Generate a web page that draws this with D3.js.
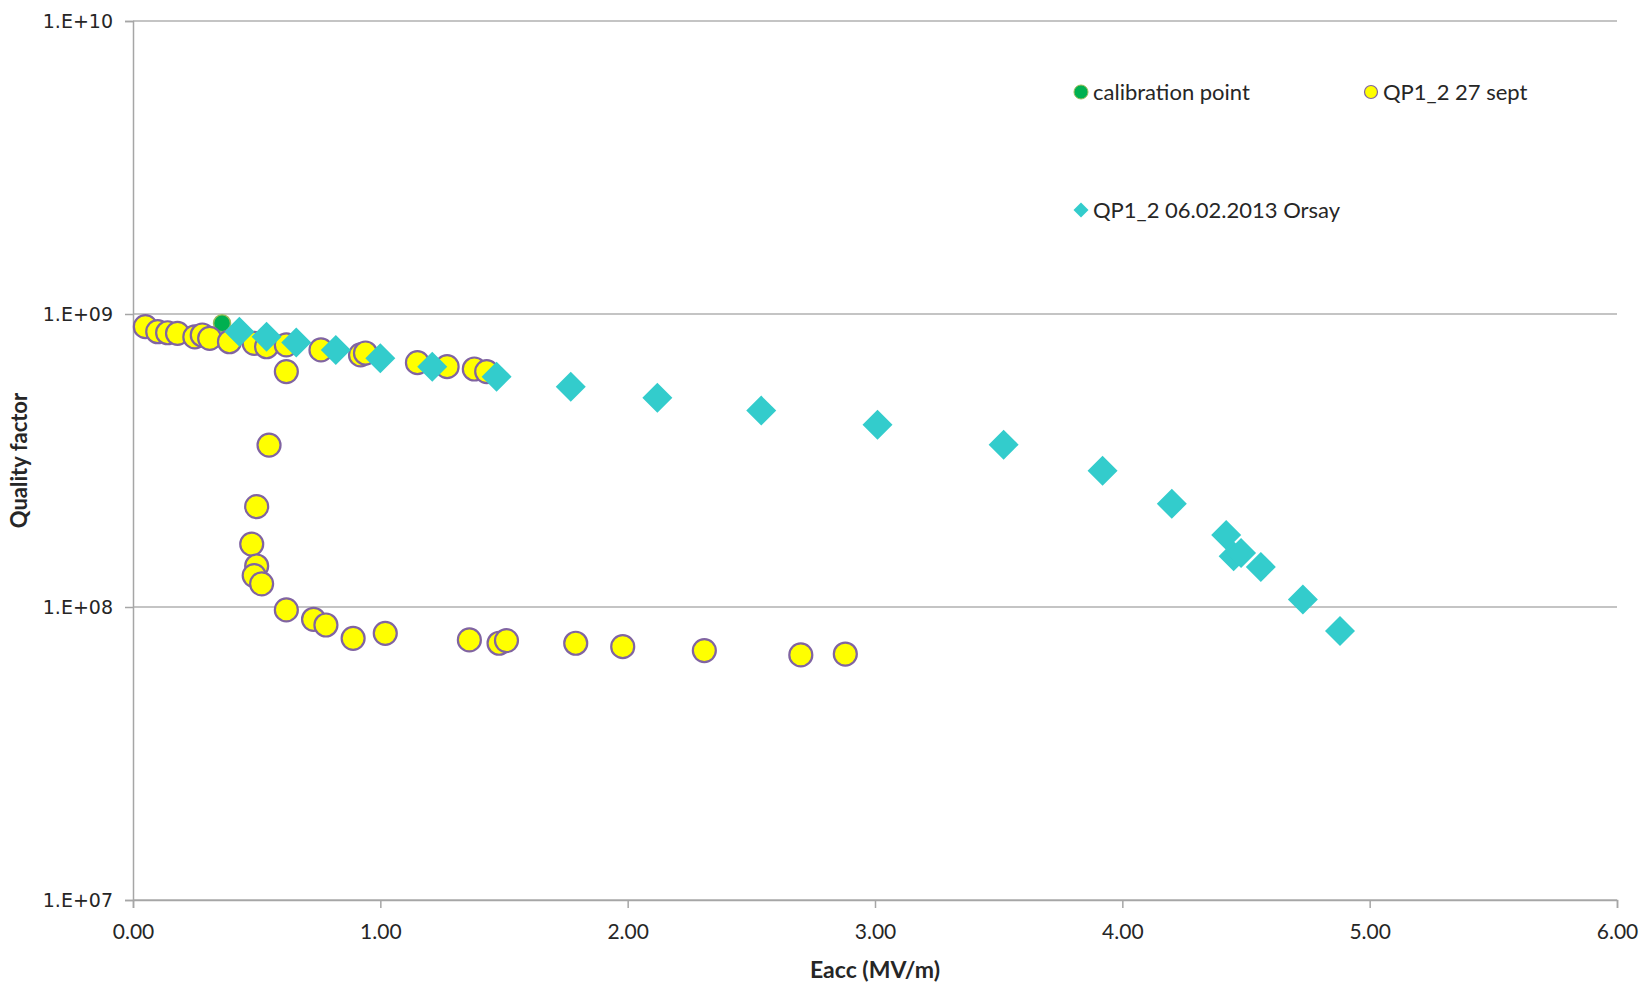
<!DOCTYPE html>
<html>
<head>
<meta charset="utf-8">
<script src="https://cdn.jsdelivr.net/npm/d3@7"></script>
<style>
  body { margin: 0; background: #fff; }
  text { font-family: Lato, "Open Sans", sans-serif; fill: #262626; }
</style>
</head>
<body>
<div id="chart"></div>
<script>
// calibration point
const calibE = [0.36];
const calibQ = [9.3e8];

// QP1_2 27 sept
const septE = [0.05, 0.10, 0.14, 0.18, 0.25, 0.28, 0.31, 0.39, 0.49, 0.54, 0.62, 0.76, 0.92, 0.94,
  1.15, 1.27, 1.38, 1.43, 0.62,
  0.55, 0.50, 0.48, 0.50, 0.49, 0.52, 0.62, 0.73, 0.78, 0.89, 1.02,
  1.36, 1.48, 1.51, 1.79, 1.98, 2.31, 2.70, 2.88];
const septQ = [9.05e8, 8.7e8, 8.63e8, 8.59e8, 8.35e8, 8.48e8, 8.26e8, 8.04e8, 7.94e8, 7.73e8, 7.84e8, 7.54e8, 7.25e8, 7.36e8,
  6.82e8, 6.61e8, 6.49e8, 6.36e8, 6.36e8,
  3.57e8, 2.20e8, 1.64e8, 1.38e8, 1.28e8, 1.20e8, 9.77e7, 9.08e7, 8.68e7, 7.82e7, 8.13e7,
  7.72e7, 7.52e7, 7.68e7, 7.52e7, 7.32e7, 7.10e7, 6.86e7, 6.91e7];

// QP1_2 06.02.2013 Orsay
const orsayE = [0.43, 0.54, 0.66, 0.82, 1.00, 1.21, 1.47, 1.77, 2.12, 2.54, 3.01, 3.52, 3.92,
  4.20, 4.42, 4.45, 4.48, 4.56, 4.73, 4.88];
const orsayQ = [8.7e8, 8.37e8, 7.99e8, 7.54e8, 7.06e8, 6.61e8, 6.11e8, 5.65e8, 5.18e8, 4.68e8, 4.19e8, 3.58e8, 2.92e8,
  2.25e8, 1.76e8, 1.49e8, 1.53e8, 1.37e8, 1.06e8, 8.28e7];

const xTicks = [0, 1, 2, 3, 4, 5, 6];
const yTicks = [1e7, 1e8, 1e9, 1e10];

const config = {
  width: 1641, height: 983,
  margin: { top: 21, right: 24, bottom: 83, left: 133 }
};

const innerW = config.width - config.margin.left - config.margin.right;
const innerH = config.height - config.margin.top - config.margin.bottom;

const svg = d3.select('#chart').append('svg')
  .attr('width', config.width)
  .attr('height', config.height);

const chart = svg.append('g')
  .attr('transform', `translate(${config.margin.left},${config.margin.top})`);

const xScale = d3.scaleLinear().domain([0, 6]).range([0, innerW]);
const yScale = d3.scaleLog().domain([1e7, 1e10]).range([innerH, 0]);

// horizontal gridlines
chart.selectAll('.grid')
  .data(yTicks)
  .enter().append('line')
  .attr('class', 'grid')
  .attr('x1', 0).attr('x2', innerW)
  .attr('y1', d => yScale(d)).attr('y2', d => yScale(d))
  .attr('stroke', '#b0b0b0').attr('stroke-width', 1.5);

// axes
const yAxis = d3.axisLeft(yScale)
  .tickValues(yTicks)
  .tickSize(8)
  .tickPadding(12)
  .tickFormat(d => '1.E+' + String(Math.round(Math.log10(d))).padStart(2, '0'));

const xAxis = d3.axisBottom(xScale)
  .tickValues(xTicks)
  .tickSize(8)
  .tickPadding(16)
  .tickFormat(d3.format('.2f'));

const yAxisG = chart.append('g').call(yAxis);
const xAxisG = chart.append('g').attr('transform', `translate(0,${innerH})`).call(xAxis);

[yAxisG, xAxisG].forEach(g => {
  g.select('.domain').attr('stroke', '#a6a6a6').attr('stroke-width', 1.5);
  g.selectAll('.tick line').attr('stroke', '#a6a6a6').attr('stroke-width', 1.5);
});
yAxisG.selectAll('.tick text')
  .style('font-family', '"DejaVu Sans", sans-serif')
  .style('font-size', '19px').attr('fill', '#262626');
xAxisG.selectAll('.tick text')
  .style('font-size', '21px').attr('fill', '#262626');

// axis titles
chart.append('text')
  .attr('x', innerW / 2).attr('y', innerH + 78)
  .attr('text-anchor', 'middle')
  .style('font-size', '23px').style('font-weight', 'bold')
  .text('Eacc (MV/m)');

chart.append('text')
  .attr('transform', `translate(${-106},${innerH / 2}) rotate(-90)`)
  .attr('text-anchor', 'middle')
  .style('font-size', '22px').style('font-weight', 'bold')
  .text('Quality factor');

// calibration point
chart.selectAll('.calib')
  .data(calibE.map((e, i) => [e, calibQ[i]]))
  .enter().append('circle')
  .attr('class', 'calib')
  .attr('cx', d => xScale(d[0])).attr('cy', d => yScale(d[1]))
  .attr('r', 8.5)
  .attr('fill', '#00b050').attr('stroke', '#9bbb59').attr('stroke-width', 1.5);

// QP1_2 27 sept
chart.selectAll('.sept')
  .data(septE.map((e, i) => [e, septQ[i]]))
  .enter().append('circle')
  .attr('class', 'sept')
  .attr('cx', d => xScale(d[0])).attr('cy', d => yScale(d[1]))
  .attr('r', 11.5)
  .attr('fill', '#ffff00').attr('stroke', '#8064a2').attr('stroke-width', 2.2);

// QP1_2 06.02.2013 Orsay
const diamond = r => `M0,${-r}L${r},0L0,${r}L${-r},0Z`;
chart.selectAll('.orsay')
  .data(orsayE.map((e, i) => [e, orsayQ[i]]))
  .enter().append('path')
  .attr('class', 'orsay')
  .attr('transform', d => `translate(${xScale(d[0])},${yScale(d[1])})`)
  .attr('d', diamond(15))
  .attr('fill', '#33cccc');

// legend
const legend = svg.append('g');
const items = [
  { label: 'calibration point', x: 1081, y: 92, type: 'calib' },
  { label: 'QP1_2 27 sept', x: 1371, y: 92, type: 'sept' },
  { label: 'QP1_2 06.02.2013 Orsay', x: 1081, y: 210, type: 'orsay' }
];
items.forEach(it => {
  if (it.type === 'calib') {
    legend.append('circle').attr('cx', it.x).attr('cy', it.y).attr('r', 7)
      .attr('fill', '#00b050').attr('stroke', '#9bbb59').attr('stroke-width', 1);
  } else if (it.type === 'sept') {
    legend.append('circle').attr('cx', it.x).attr('cy', it.y).attr('r', 6.5)
      .attr('fill', '#ffff00').attr('stroke', '#8064a2').attr('stroke-width', 1.2);
  } else {
    legend.append('path').attr('transform', `translate(${it.x},${it.y})`)
      .attr('d', diamond(7.5)).attr('fill', '#33cccc');
  }
  legend.append('text')
    .attr('x', it.x + 12).attr('y', it.y)
    .attr('dy', '0.35em')
    .style('font-size', '22px')
    .text(it.label);
});
</script>
</body>
</html>
